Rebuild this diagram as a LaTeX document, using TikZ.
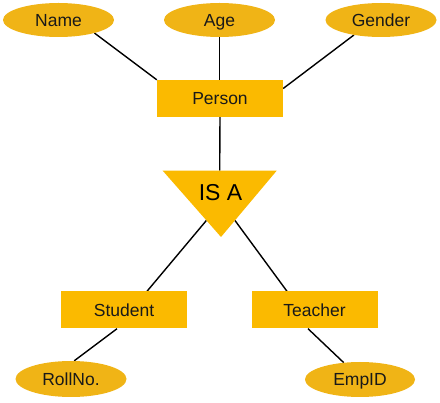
\documentclass[tikz,border=0pt]{standalone}
\usepackage{fontspec}
\setmainfont{Liberation Sans}
\usetikzlibrary{shapes.geometric,calc}
\pgfdeclarelayer{bg}
\pgfsetlayers{bg,main}
\definecolor{boxgold}{RGB}{251,186,0}
\definecolor{ellgold}{RGB}{240,180,22}
\definecolor{txt}{RGB}{25,25,25}
\begin{document}
\begin{tikzpicture}[x=1pt,y=-1pt,
  lbl/.style={text=txt,font=\fontsize{17.5}{17.5}\selectfont,text height=12.5pt,text depth=0pt},
  attr/.style={ellipse,fill=ellgold,draw=none,inner sep=0pt,minimum width=111pt,minimum height=34pt,lbl},
  ent/.style={rectangle,fill=boxgold,draw=none,inner sep=0pt,minimum width=126pt,minimum height=37pt,lbl},
  conn/.style={draw=black,line width=1.4pt}]
\useasboundingbox (0,0) rectangle (440,403);
% attributes
\node[attr] (name) at (58.5,20) {Name};
\node[attr] (age) at (219.5,20) {Age};
\node[attr] (gender) at (381,20) {Gender};
% entities
\node[ent] (person) at (220,98.5) {Person};
\node[ent] (student) at (124,310) {Student};
\node[ent] (teacher) at (314.5,310) {Teacher};
\node[attr,minimum height=36pt] (roll) at (71,379) {RollNo.};
\node[attr,minimum height=35pt,minimum width=110pt] (emp) at (360,379.5) {EmpID};
% IS A triangle
\coordinate (tl) at (162.7,170.7);
\coordinate (tr) at (276.7,170.7);
\coordinate (ap) at (221,237);
\fill[boxgold] (tl) -- (tr) -- (ap) -- cycle;
\node[text=black,font=\fontsize{23}{23}\selectfont,inner sep=0pt] (isa) at (220.5,192.5) {IS A};
\begin{pgfonlayer}{bg}
\draw[conn] (name.-20) -- (person.north west);
\draw[conn] (age.south) -- (age.south |- person.north);
\draw[conn] (gender.209) -- (person.9.5);
\draw[conn] (person.south) -- ($(tl)!0.5!(tr)$);
\draw[conn] ($(tl)!0.75!(ap)$) -- ($(student.north)+(23,0)$);
\draw[conn] ($(tr)!0.75!(ap)$) -- ($(teacher.north)+(-27.5,0)$);
\draw[conn] ($(student.south)+(-7,0)$) -- (roll.80);
\draw[conn] ($(teacher.south)+(-6.5,0)$) -- (emp.134);
\end{pgfonlayer}
\end{tikzpicture}
\end{document}
